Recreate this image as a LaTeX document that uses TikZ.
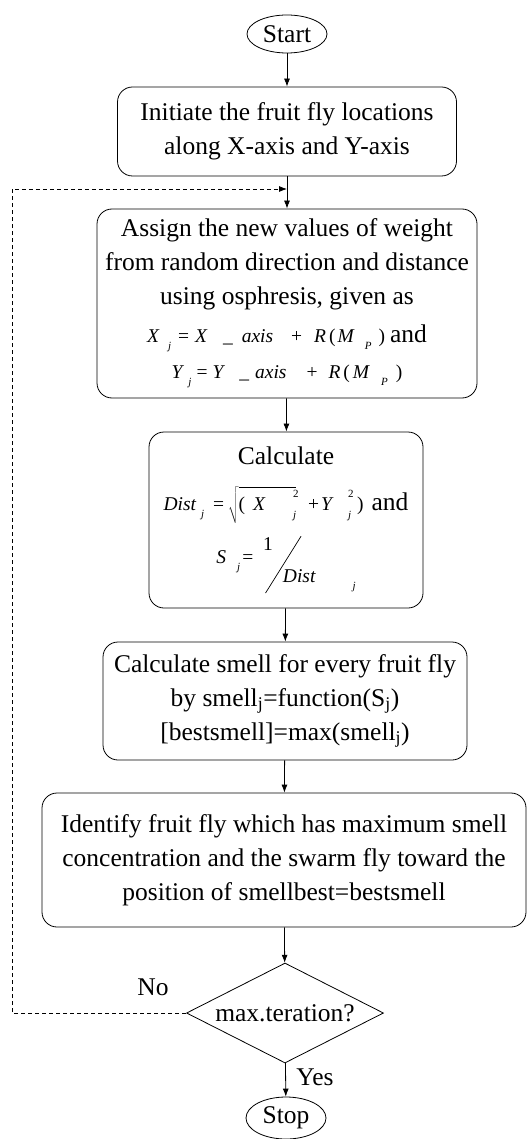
\documentclass[tikz,border=0pt]{standalone}
\usepackage{fontspec}
\usepackage{graphicx}
\setmainfont{Liberation Serif}
\usetikzlibrary{shapes.geometric,arrows.meta}

% formula pieces
\newcommand{\fm}[1]{{\fontsize{19.5}{22}\selectfont\itshape #1}}
\newcommand{\up}[1]{{\upshape #1}}
\newcommand{\lowsub}[1]{\raisebox{-7pt}{\fontsize{11}{11}\selectfont\itshape #1}}
\newcommand{\stk}[2]{\rlap{\raisebox{13pt}{\fontsize{11}{11}\selectfont\upshape #1}}\raisebox{-8pt}{\fontsize{11}{11}\selectfont\itshape #2}}

\begin{document}
\begin{tikzpicture}[
        x=1pt, y=-1pt,
        every node/.style={
            font=\fontsize{25.5}{34}\selectfont,
            inner sep=0pt
        },
        procbox/.style={draw, rounded corners=15pt, align=center, line width=0.8pt},
        terminal/.style={draw, ellipse, line width=0.8pt},
        decision/.style={draw, diamond, aspect=2, line width=0.8pt},
        flow/.style={-{Latex[length=8pt,width=6pt]}, line width=0.8pt},
        loopback/.style={flow, dash pattern=on 4pt off 3pt}
    ]
        \useasboundingbox (0,0) rectangle (527,1139);

        % Start / Stop
        \node[terminal, minimum width=80pt, minimum height=38pt] (start) at (287,34) {Start};
        \node[terminal, minimum width=80pt, minimum height=42pt] (stop) at (286,1118) {Stop};

        % Steps
        \node[procbox, minimum width=339pt, minimum height=89pt] (init) at (287,131.5)
            {Initiate the fruit fly locations\\along X-axis and Y-axis};

        \node[procbox, minimum width=380pt, minimum height=189pt] (assign) at (287,303.5)
            {Assign the new values of weight\\
             from random direction and distance\\
             using osphresis, given as\\[4pt]
             \fm{X\hspace{9pt}\lowsub{j}\hspace{7pt}\up{=}\hspace{6pt}X\hspace{16pt}\_\hspace{9pt}axis\hspace{18pt}\up{+}\hspace{12pt}R\hspace{3pt}\up{(}\hspace{2pt}M\hspace{11pt}\lowsub{P}\hspace{7pt}\up{)}}\hspace{5pt}and\\[2pt]
             \fm{Y\hspace{6pt}\lowsub{j}\hspace{5pt}\up{=}\hspace{5pt}Y\hspace{16pt}\_\hspace{6pt}axis\hspace{20pt}\up{+}\hspace{11pt}R\hspace{3pt}\up{(}\hspace{3pt}M\hspace{12pt}\lowsub{P}\hspace{8pt}\up{)}}\hspace{20pt}};

        \node[procbox, minimum width=274pt, minimum height=176pt] (calc) at (286,520)
            {Calculate\\[12pt]
             \fm{Dist\hspace{5pt}\lowsub{j}\hspace{9pt}\up{=}\hspace{4pt}$\sqrt{\vphantom{\rule[-8pt]{0pt}{22pt}}\hbox{\fm{\up{(}\hspace{8pt}X\hspace{28pt}\stk{2}{j}}}}$\hspace{12pt}\up{+}\hspace{2pt}Y\hspace{16pt}\stk{2}{j}\hspace{6pt}\up{)}}\hspace{8pt}and\hspace{32pt}\\[12pt]
             \fm{S\hspace{11pt}\lowsub{j}\hspace{2pt}\up{=}\hspace{10pt}\rlap{\hspace{2pt}\raisebox{-30pt}{\rotatebox{58}{\rule{67pt}{0.7pt}}}}\raisebox{13pt}{\up{1}}\hspace{10pt}\raisebox{-19pt}{Dist}\hspace{37pt}\raisebox{-26pt}{\fontsize{11}{11}\selectfont j}}\hspace{30pt}};

        \node[procbox, minimum width=364pt, minimum height=118pt] (smell) at (285,701)
            {Calculate smell for every fruit fly\\
             by smell\textsubscript{j}=function(S\textsubscript{j})\\
             {[bestsmell]=max(smell\textsubscript{j})}};

        \node[procbox, minimum width=484pt, minimum height=134pt] (ident) at (284,860)
            {Identify fruit fly which has maximum smell\\
             concentration and the swarm fly toward the\\
             position of smellbest=bestsmell};

        % Decision
        \node[decision, minimum width=197pt, minimum height=100pt] (check) at (285,1013) {max.teration?};

        \node (no) at (153,987) {No};
        \node (yes) at (315,1077) {Yes};

        \coordinate (loopin) at (287,189);
        \coordinate (loopcorner) at (12,1013);

        \draw[flow] (start) -- (init);
        \draw[flow] (init) -- (assign);
        \draw[flow] (assign) -- (calc);
        \draw[flow] (calc) -- (smell);
        \draw[flow] (smell) -- (ident);
        \draw[flow] (ident) -- (check);
        \draw[flow] (check) -- (stop);

        \draw[loopback] (check.west) -- (loopcorner) |- (loopin);

    \end{tikzpicture}
\end{document}
